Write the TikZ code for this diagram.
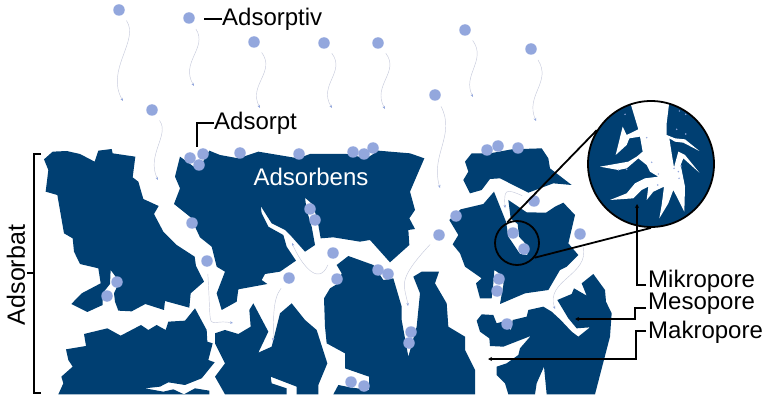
\documentclass[tikz,border=0pt]{standalone}
\usepackage{fontspec}
\setmainfont{Liberation Sans}
\usepackage{tikz}
\usetikzlibrary{arrows.meta}
\definecolor{adsorbensblau}{HTML}{003F72}
\definecolor{teilchenblau}{HTML}{93A7DD}
\definecolor{bahngrau}{HTML}{C6CADB}
\tikzset{
  koerper/.style={fill=adsorbensblau,draw=none},
  teilchen/.style={circle,fill=teilchenblau,draw=none,inner sep=0pt,minimum size=11.5pt},
  bahn/.style={-{Stealth[length=3pt,width=2.5pt,color=teilchenblau]},draw=bahngrau,line width=.45pt,shorten <=7pt},
  leiter/.style={draw=black,line width=1.8pt},
  zeigerspitze/.style={-{Stealth[length=4pt,width=4pt]}},
  beschriftung/.style={inner sep=0pt,font=\fontsize{24}{24}\selectfont},
}
\begin{document}
\begin{tikzpicture}[>=stealth,x=1pt,y=-1pt]
\useasboundingbox (0,0) rectangle (768,406);
% linke Koerper
\begin{scope}[shift={(0,130)},scale=1/3]
\fill[koerper](132,88)--(158,65)--(200,63)--(240,72)--(284,95)--(295,62)--(335,57)--(338,70)--(406,80)--(398,142)--(415,155)--(430,207)--(476,228)--(462,252)--(490,305)--(530,345)--(584,380)--(588,408)--(612,455)--(572,490)--(568,533)--(495,513)--(492,540)--(436,522)--(395,544)--(355,542)--(345,515)--(342,490)--(358,455)--(332,420)--(330,462)--(308,490)--(308,525)--(262,546)--(214,522)--(245,490)--(302,460)--(295,415)--(240,402)--(222,365)--(218,325)--(192,310)--(172,195)--(137,185)--(145,120)--cycle;
\fill[koerper](175,793)--(190,760)--(184,740)--(218,710)--(205,690)--(198,658)--(258,648)--(252,612)--(322,595)--(362,617)--(423,585)--(445,600)--(470,585)--(497,600)--(505,575)--(555,572)--(585,535)--(620,600)--(622,635)--(638,640)--(625,690)--(644,697)--(605,745)--(555,765)--(505,757)--(480,770)--(435,775)--(490,785)--(520,778)--(552,793)--(585,775)--(628,782)--(628,793)--cycle;
\end{scope}
% mittlere Koerper
\begin{scope}[shift={(170,130)},scale=1/3]
\fill[koerper](30,80)--(85,120)--(118,62)--(150,75)--(205,85)--(265,65)--(385,85)--(420,72)--(530,72)--(590,85)--(625,62)--(720,70)--(763,85)--(720,185)--(735,240)--(718,265)--(735,297)--(715,300)--(718,345)--(660,397)--(600,330)--(570,335)--(490,322)--(452,325)--(445,285)--(430,225)--(405,203)--(410,240)--(425,290)--(435,345)--(405,365)--(365,320)--(345,300)--(305,280)--(272,228)--(275,250)--(295,290)--(340,315)--(350,350)--(378,392)--(330,425)--(285,432)--(275,450)--(292,462)--(205,478)--(200,515)--(155,540)--(140,490)--(165,425)--(140,410)--(125,350)--(90,322)--(62,262)--(12,222)--(30,175)--(15,140)--cycle;
\fill[koerper](135,610)--(165,600)--(205,612)--(242,590)--(238,540)--(250,520)--(295,605)--(265,668)--(305,650)--(330,550)--(365,520)--(405,570)--(440,600)--(472,700)--(445,765)--(445,793)--(380,793)--(380,770)--(302,740)--(305,760)--(350,775)--(350,793)--(165,793)--(135,740)--(165,700)--(135,640)--cycle;
\fill[koerper](535,378)--(610,405)--(640,450)--(670,445)--(695,530)--(695,570)--(715,680)--(740,590)--(750,490)--(730,440)--(755,425)--(807,425)--(795,460)--(830,520)--(835,590)--(885,620)--(885,660)--(915,720)--(915,793)--(490,793)--(505,765)--(540,772)--(597,780)--(597,740)--(525,715)--(525,670)--(470,640)--(465,590)--(462,505)--(480,475)--(505,460)--(515,430)--(500,405)--cycle;
\end{scope}
% rechte Koerper
\begin{scope}[shift={(440,130)},scale=1/3]
\fill[koerper](75,95)--(95,70)--(150,70)--(215,58)--(305,55)--(325,85)--(330,115)--(395,165)--(340,160)--(265,188)--(180,145)--(150,147)--(125,180)--(90,190)--(70,150)--(85,125)--cycle;
\fill[koerper](28,270)--(62,238)--(130,222)--(162,185)--(198,275)--(205,320)--(240,372)--(262,375)--(265,350)--(237,320)--(233,282)--(212,265)--(205,210)--(260,247)--(318,248)--(345,230)--(370,218)--(405,255)--(385,340)--(415,375)--(380,410)--(360,420)--(325,480)--(255,490)--(180,522)--(190,465)--(192,440)--(163,420)--(160,460)--(155,505)--(120,505)--(108,460)--(125,445)--(75,410)--(60,370)--(38,343)--(55,315)--cycle;
\fill[koerper](110,572)--(125,553)--(160,555)--(170,580)--(187,575)--(213,600)--(218,570)--(260,560)--(265,540)--(310,530)--(335,545)--(362,570)--(395,605)--(415,620)--(450,592)--(410,595)--(385,565)--(352,510)--(395,492)--(402,475)--(440,497)--(425,460)--(460,432)--(495,480)--(498,515)--(515,550)--(510,620)--(480,735)--(465,793)--(320,793)--(312,710)--(290,760)--(285,793)--(205,793)--(195,760)--(170,735)--(170,710)--(200,700)--(235,675)--(240,655)--(272,618)--(190,650)--(150,648)--(148,625)--(120,605)--cycle;
\end{scope}
% Lupe
\node[circle,fill=adsorbensblau,inner sep=0pt,minimum size=126pt] (lupe) at (651,164) {};
\begin{scope}
\clip (651,164) circle (63);
\begin{scope}[shift={(570,90)},scale=1/3]
\fill[white](180,35)--(298,35)--(290,100)--(290,135)--(315,145)--(345,148)--(388,183)--(340,158)--(315,155)--(298,145)--(305,190)--(312,232)--(325,185)--(345,195)--(388,248)--(340,205)--(332,225)--(345,290)--(343,365)--(310,300)--(295,340)--(268,385)--(275,345)--(282,290)--(250,305)--(230,330)--(235,290)--(215,300)--(190,325)--(120,330)--(170,310)--(195,280)--(225,265)--(265,260)--(240,245)--(230,225)--(205,205)--(170,235)--(145,240)--(90,230)--(175,215)--(200,200)--(218,185)--(210,140)--(178,145)--(170,165)--(137,195)--(158,110)--(170,135)--(205,118)--cycle;
\foreach \px/\py in {165/73,230/143,245/217,265/252,263/285,327/265,325/245,333/228,312/235,320/118,347/132,328/63,347/73,170/238,145/240}
  \fill[teilchenblau] (\px,\py) circle (2.5);
\end{scope}
\end{scope}
% Teilchen
\foreach \i/\px/\py in {1/119/10,2/189/18,3/254/42,4/324/43,5/378/43,6/465/30,7/531/49,8/435/95,9/152/110,10/207/261,11/289/278,12/333/253,13/439/235,14/580/234,15/534/201}
  \node[teilchen] (t\i) at (\px,\py) {};
\foreach \i/\px/\py in {1/190/158,2/203/154,3/199/165,4/240/153,5/299/154,6/353/152,7/364/154,8/373/148,9/192/223,10/310/209,11/315/220,12/337/279,13/378/270,14/388/274,15/411/332,16/409/343,17/351/382,18/364/386,19/117/282,20/107/296,21/487/150,22/498/146,23/518/148,24/456/216,25/513/233,26/524/249,27/499/279,28/497/291,29/507/324}
  \node[teilchen] (a\i) at (\px,\py) {};
% Bahnen
\coordinate (e1) at (123,101); \coordinate (e2) at (194,86); \coordinate (e3) at (260,108);
\coordinate (e4) at (332,108); \coordinate (e5) at (385,109); \coordinate (e6) at (473,97);
\coordinate (e7) at (536,121); \coordinate (e8) at (440,188); \coordinate (e9) at (158,180);
\coordinate (e10) at (233,323); \coordinate (e11) at (273,341); \coordinate (e12) at (292,243);
\coordinate (e13) at (408,306); \coordinate (e14) at (555,309); \coordinate (e15) at (505,208);
\draw[bahn](t1) .. controls (140,40) and (105,70) .. (e1);
\draw[bahn](t2) .. controls (208,48) and (180,62) .. (e2);
\draw[bahn](t3) .. controls (276,72) and (248,85) .. (e3);
\draw[bahn](t4) .. controls (346,72) and (318,85) .. (e4);
\draw[bahn](t5) .. controls (400,72) and (372,85) .. (e5);
\draw[bahn](t6) .. controls (487,60) and (462,75) .. (e6);
\draw[bahn](t7) .. controls (552,82) and (525,95) .. (e7);
\draw[bahn](t8) .. controls (456,135) and (430,155) .. (e8);
\draw[bahn](t9) .. controls (170,135) and (146,155) .. (e9);
\draw[bahn](t10) .. controls (212,340) and (205,318) .. (e10);
\draw[bahn](t11) .. controls (272,300) and (274,320) .. (e11);
\draw[bahn](t12) .. controls (318,288) and (300,262) .. (e12);
\draw[bahn](t13) .. controls (395,282) and (405,285) .. (e13);
\draw[bahn](t14) .. controls (590,275) and (545,280) .. (e14);
\draw[bahn](t15) .. controls (505,188) and (504,190) .. (e15);
% Ausschnitt und Strahlen
\node[circle,draw=black,line width=1.8pt,inner sep=0pt,minimum size=44pt] (ausschnitt) at (517,243) {};
\node[circle,draw=black,line width=1.8pt,inner sep=0pt,minimum size=126pt] (rand) at (651,164) {};
\draw[leiter](ausschnitt.115)--(rand.148);
\draw[leiter](ausschnitt.-40)--(rand.-90);
% Beschriftung
\node[beschriftung,anchor=west] (adsorptiv) at (222,19) {Adsorptiv};
\node[beschriftung,anchor=west] (adsorpt) at (214,123) {Adsorpt};
\node[beschriftung,text=white] (adsorbens) at (311,177) {Adsorbens};
\node[beschriftung,rotate=90,font=\fontsize{25}{25}\selectfont] (adsorbat) at (16,275) {Adsorbat};
\node[beschriftung,anchor=west] (mikropore) at (648,281) {Mikropore};
\node[beschriftung,anchor=west] (mesopore) at (648,304) {Mesopore};
\node[beschriftung,anchor=west] (makropore) at (648,332) {Makropore};
\coordinate (strich) at (204,19);
\coordinate (zeiger) at (197,147);
\coordinate (klammero) at (41,154);
\coordinate (klammeru) at (41,393);
\coordinate (klammerm) at (27,273);
\coordinate (mikroende) at (637,204);
\coordinate (mesoende) at (575,319);
\coordinate (makroende) at (488,359);
\draw[leiter](strich)--(adsorptiv.west);
\draw[leiter](zeiger)|-(adsorpt.west);
\draw[leiter](klammero)--(34,154)--(34,393)--(klammeru);
\draw[leiter](klammerm)--(34,273);
\draw[leiter,zeigerspitze](mikropore.west)++(-2,4)-|(mikroende);
\draw[leiter,zeigerspitze](mesopore.west)++(-2,4)-|(635,319)--(mesoende);
\draw[leiter,zeigerspitze](makropore.west)++(-2,-1)-|(636,359)--(makroende);
\end{tikzpicture}
\end{document}
